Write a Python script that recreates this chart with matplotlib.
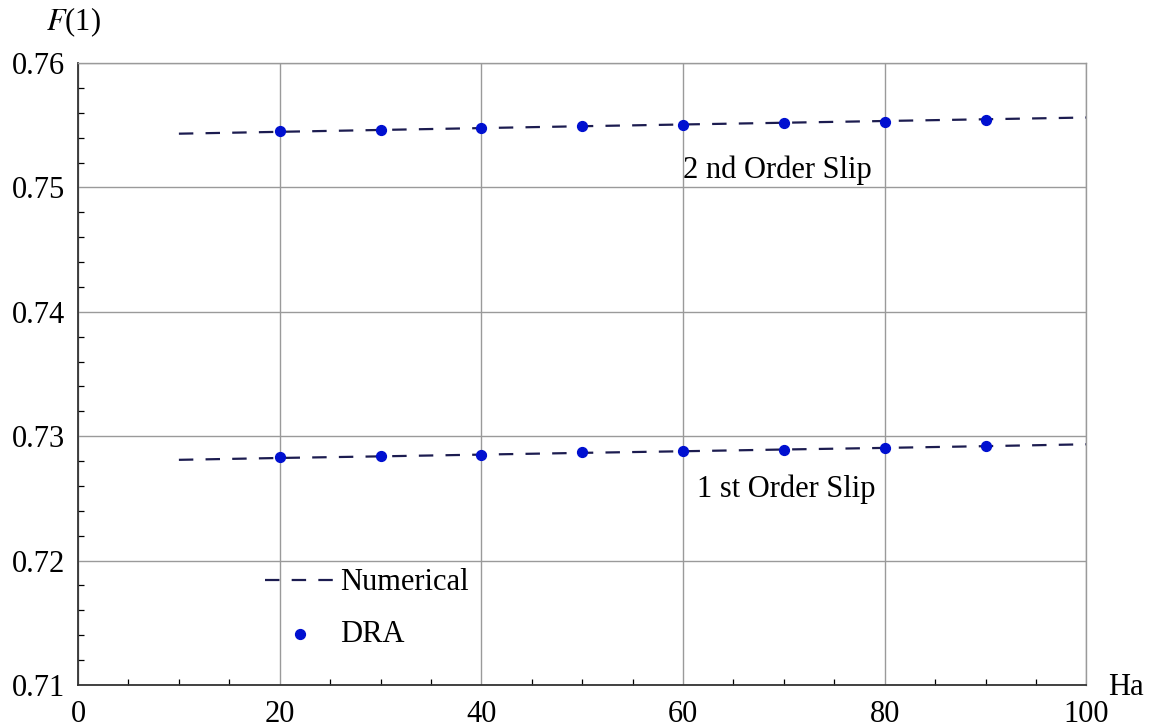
import matplotlib.pyplot as plt
from matplotlib.ticker import MultipleLocator

# Numerical solution (dashed lines)
num_ha = [10, 20, 30, 40, 50, 60, 70, 80, 90, 100]
num_second = [0.75432, 0.75447, 0.75462, 0.75477, 0.75492, 0.75506, 0.75520, 0.75534, 0.75548, 0.75562]
num_first = [0.72810, 0.72825, 0.72838, 0.72852, 0.72866, 0.72879, 0.72893, 0.72906, 0.72920, 0.72935]

# DRA points
dra_ha = [20, 30, 40, 50, 60, 70, 80, 90]
dra_second = [0.75450, 0.75461, 0.75477, 0.75494, 0.75502, 0.75518, 0.75526, 0.75542]
dra_first = [0.72833, 0.72841, 0.72849, 0.72873, 0.72881, 0.72889, 0.72905, 0.72921]

x_ticks = [0, 20, 40, 60, 80, 100]
y_ticks = [0.71, 0.72, 0.73, 0.74, 0.75, 0.76]

plt.rcParams["font.family"] = ["Liberation Serif", "DejaVu Serif"]
plt.rcParams["mathtext.fontset"] = "stix"

FS = 22

fig = plt.figure(figsize=(11.53, 7.27), dpi=100)
ax = fig.add_axes([0.0677, 0.0578, 0.8745, 0.8555])

line_color = "#1c1c50"
dot_color = "#0010d0"
dash = (0, (6.5, 5.5))

ax.plot(num_ha, num_second, color=line_color, lw=1.6, linestyle=dash, label="Numerical", zorder=3)
ax.plot(num_ha, num_first, color=line_color, lw=1.6, linestyle=dash, zorder=3)
ax.scatter(dra_ha, dra_second, s=50, color=dot_color, label="DRA", zorder=4)
ax.scatter(dra_ha, dra_first, s=50, color=dot_color, zorder=4)

ax.set_xlim(0, 100)
ax.set_ylim(0.71, 0.76)
ax.set_xticks(x_ticks)
ax.set_yticks(y_ticks)
ax.set_xticklabels([str(t) for t in x_ticks])
ax.set_yticklabels([f"{t:.2f}" for t in y_ticks])
ax.xaxis.set_minor_locator(MultipleLocator(5))
ax.yaxis.set_minor_locator(MultipleLocator(0.002))

ax.grid(True, which="major", color="#9a9a9a", lw=1.0)
ax.tick_params(which="both", direction="in", colors="black", labelsize=FS)
ax.tick_params(axis="x", which="major", length=0, pad=11)
ax.tick_params(axis="y", which="major", length=0, pad=9.5)
ax.tick_params(which="minor", length=4, width=0.9)

for side in ["top", "right"]:
    ax.spines[side].set_color("#9a9a9a")
    ax.spines[side].set_linewidth(1.0)
for side in ["left", "bottom"]:
    ax.spines[side].set_color("#333333")
    ax.spines[side].set_linewidth(1.3)

ax.text(60.0, 0.7514, "2 nd Order Slip", fontsize=FS, ha="left", va="center")
ax.text(61.4, 0.7257, "1 st Order Slip", fontsize=FS, ha="left", va="center")

fig.text(0.040, 0.970, r"$F$(1)", fontsize=FS, ha="left", va="center")
fig.text(0.961, 0.055, "Ha", fontsize=FS, ha="left", va="center")

leg = ax.legend(loc="upper left", bbox_to_anchor=(0.158, 0.2315), frameon=False,
                fontsize=FS, handlelength=2.3, handletextpad=0.15, labelspacing=0.75)

fig.savefig("out.png", dpi=100)
